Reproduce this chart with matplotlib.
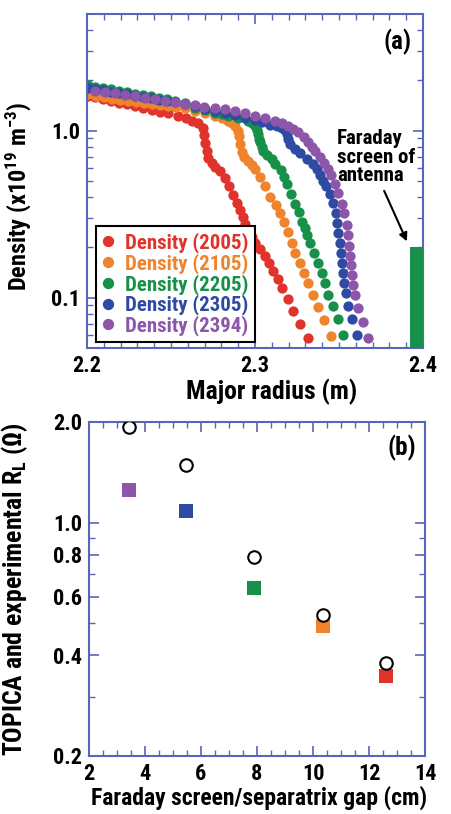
import numpy as np
import matplotlib
matplotlib.use('Agg')
import matplotlib.pyplot as plt
from matplotlib.ticker import FixedLocator, MultipleLocator, NullFormatter

plt.rcParams['font.family'] = ['Roboto Condensed', 'Liberation Sans', 'DejaVu Sans']
plt.rcParams['font.weight'] = 'bold'
plt.rcParams['axes.labelweight'] = 'bold'
plt.rcParams['mathtext.fontset'] = 'custom'
plt.rcParams['mathtext.rm'] = 'Roboto Condensed:bold'
plt.rcParams['mathtext.it'] = 'Roboto Condensed:bold'
plt.rcParams['mathtext.bf'] = 'Roboto Condensed:bold'

# ---- panel (a): density profiles, major radius (m) vs density (1e19 m^-3)
r_2005 = [2.2006, 2.2048, 2.2095, 2.2143, 2.2190, 2.2238, 2.2286, 2.2333, 2.2385, 2.2435, 2.2482,
          2.2543, 2.2589, 2.2623, 2.2661, 2.2688, 2.2699, 2.2705, 2.2714, 2.2723, 2.2744, 2.2762,
          2.2792, 2.2821, 2.2845, 2.2871, 2.2893, 2.2911, 2.2929, 2.2940, 2.2960, 2.2980, 2.3000,
          2.3030, 2.3060, 2.3085, 2.3109, 2.3135, 2.3159, 2.3195, 2.3228, 2.3268, 2.3317]
n_2005 = [1.616, 1.583, 1.544, 1.509, 1.474, 1.438, 1.403, 1.370, 1.328, 1.297, 1.271,
          1.228, 1.187, 1.147, 1.108, 1.042, 0.940, 0.848, 0.760, 0.686, 0.641, 0.610,
          0.570, 0.518, 0.464, 0.410, 0.368, 0.334, 0.303, 0.278, 0.254, 0.232, 0.213,
          0.195, 0.178, 0.162, 0.1454, 0.129, 0.114, 0.0982, 0.0829, 0.070, 0.0575]

r_2105 = [2.2006, 2.2054, 2.2101, 2.2149, 2.2196, 2.2244, 2.2292, 2.2339, 2.2385, 2.2435, 2.2482,
          2.2530, 2.2583, 2.2643, 2.2702, 2.2762, 2.2804, 2.2841, 2.2863, 2.2881, 2.2896, 2.2902,
          2.2911, 2.2921, 2.2935, 2.2960, 2.2982, 2.3000, 2.3030, 2.3060, 2.3089, 2.3125, 2.3149,
          2.3173, 2.3196, 2.3218, 2.3238, 2.3268, 2.3293, 2.3317, 2.3347, 2.3373, 2.3413, 2.3452]
n_2105 = [1.650, 1.616, 1.583, 1.550, 1.519, 1.498, 1.478, 1.468, 1.452, 1.432, 1.413,
          1.393, 1.370, 1.315, 1.271, 1.228, 1.187, 1.147, 1.108, 1.071, 1.000, 0.934,
          0.833, 0.743, 0.700, 0.663, 0.623, 0.592, 0.527, 0.464, 0.401, 0.358, 0.321,
          0.283, 0.247, 0.2117, 0.1845, 0.1609, 0.1403, 0.1223, 0.1042, 0.0876, 0.0740, 0.0588]

r_2205 = [2.2003, 2.2048, 2.2095, 2.2143, 2.2190, 2.2238, 2.2286, 2.2333, 2.2381, 2.2429, 2.2476,
          2.2524, 2.2583, 2.2643, 2.2702, 2.2762, 2.2804, 2.2841, 2.2899, 2.2960, 2.2982, 2.3000,
          2.3012, 2.3020, 2.3026, 2.3030, 2.3039, 2.3049, 2.3071, 2.3099, 2.3119, 2.3155, 2.3173,
          2.3189, 2.3214, 2.3238, 2.3259, 2.3278, 2.3295, 2.3308, 2.3327, 2.3351, 2.3377, 2.3397,
          2.3417, 2.3436, 2.3466, 2.3496, 2.3526]
n_2205 = [1.878, 1.840, 1.803, 1.766, 1.730, 1.695, 1.665, 1.638, 1.605, 1.572, 1.540,
          1.509, 1.458, 1.376, 1.324, 1.280, 1.254, 1.228, 1.187, 1.147, 1.108, 1.071,
          1.014, 0.956, 0.896, 0.852, 0.803, 0.760, 0.720, 0.679, 0.636, 0.578, 0.525,
          0.477, 0.416, 0.366, 0.325, 0.283, 0.261, 0.237, 0.2117, 0.1845, 0.1609, 0.1403,
          0.1223, 0.1042, 0.0887, 0.0747, 0.0602]

r_2305 = [2.2003, 2.2048, 2.2095, 2.2143, 2.2190, 2.2238, 2.2286, 2.2333, 2.2381, 2.2429, 2.2476,
          2.2524, 2.2583, 2.2643, 2.2702, 2.2762, 2.2821, 2.2881, 2.2940, 2.3000, 2.3042, 2.3089,
          2.3131, 2.3161, 2.3179, 2.3190, 2.3199, 2.3208, 2.3238, 2.3268, 2.3308, 2.3345, 2.3369,
          2.3387, 2.3405, 2.3423, 2.3446, 2.3467, 2.3482, 2.3491, 2.3497, 2.3503, 2.3509, 2.3515,
          2.3521, 2.3527, 2.3540, 2.3555, 2.3580, 2.3605]
n_2305 = [1.803, 1.778, 1.742, 1.707, 1.677, 1.650, 1.620, 1.594, 1.561, 1.529, 1.509,
          1.478, 1.448, 1.399, 1.352, 1.315, 1.280, 1.237, 1.195, 1.155, 1.121, 1.086,
          1.064, 1.042, 1.007, 0.960, 0.896, 0.833, 0.778, 0.740, 0.681, 0.636, 0.586,
          0.540, 0.500, 0.464, 0.416, 0.368, 0.321, 0.280, 0.244, 0.2117, 0.1845, 0.1609,
          0.1403, 0.1223, 0.1067, 0.0896, 0.0745, 0.0598]

r_2394 = [2.2048, 2.2107, 2.2167, 2.2226, 2.2286, 2.2345, 2.2405, 2.2464, 2.2524, 2.2583, 2.2643,
          2.2696, 2.2762, 2.2821, 2.2881, 2.2940, 2.3000, 2.3060, 2.3119, 2.3161, 2.3198, 2.3229,
          2.3258, 2.3289, 2.3317, 2.3339, 2.3357, 2.3387, 2.3411, 2.3432, 2.3452, 2.3476, 2.3497,
          2.3516, 2.3530, 2.3545, 2.3551, 2.3558, 2.3564, 2.3570, 2.3577, 2.3585, 2.3598, 2.3616,
          2.3640, 2.3673]
n_2394 = [1.730, 1.707, 1.677, 1.638, 1.616, 1.579, 1.544, 1.509, 1.488, 1.454, 1.422,
          1.395, 1.376, 1.346, 1.315, 1.271, 1.228, 1.187, 1.147, 1.111, 1.071, 1.028,
          0.977, 0.915, 0.852, 0.803, 0.760, 0.695, 0.645, 0.594, 0.543, 0.482, 0.422,
          0.366, 0.321, 0.272, 0.237, 0.2054, 0.179, 0.156, 0.136, 0.1187, 0.1035, 0.0864,
          0.0720, 0.0570]

shots = ['2005', '2105', '2205', '2305', '2394']
colors = ['#e0332b', '#f0842c', '#17904a', '#2f4aa3', '#8d56aa']
radii = [r_2005, r_2105, r_2205, r_2305, r_2394]
densities = [n_2005, n_2105, n_2205, n_2305, n_2394]

# Faraday screen of the antenna
screen_r = [2.392, 2.400]
screen_top = 0.2

# ---- panel (b): loading resistance vs gap (cm)
gap = [3.42, 5.46, 7.89, 10.35, 12.6]
rl_topica = [1.93, 1.49, 0.79, 0.53, 0.379]
rl_exp = [1.25, 1.08, 0.638, 0.49, 0.348]
exp_colors = ['#8d56aa', '#2f4aa3', '#17904a', '#f0842c', '#e0332b']

spine_col = '#5566bb'

fig = plt.figure(figsize=(4.51, 8.14), dpi=100)
ax1 = fig.add_axes([87/451, 1-348/814, 336/451, 334/814])
ax2 = fig.add_axes([89/451, 1-756/814, 336/451, 334/814])

for r, n, c, s in zip(radii, densities, colors, shots):
    ax1.plot(r, n, 'o', color=c, ms=7.4, mew=0, label=f'Density ({s})')

ymin_a = 0.05
ax1.bar(screen_r[0], screen_top - ymin_a, width=screen_r[1]-screen_r[0], bottom=ymin_a,
        align='edge', color='#17904a', zorder=3)
ax1.text(2.3488, 1.02, 'Faraday\nscreen of\nantenna', fontsize=15, ha='left', va='top',
         linespacing=0.95)
ax1.annotate('', xy=(2.3911, 0.21), xytext=(2.3762, 0.452),
             arrowprops=dict(arrowstyle='-|>', color='black', lw=1.5, mutation_scale=12))
ax1.text(0.923, 0.916, '(a)', transform=ax1.transAxes, ha='center', va='center', fontsize=18)

ax1.set_yscale('log')
ax1.set_xlim(2.2, 2.4)
ax1.set_ylim(ymin_a, 5)
ax1.xaxis.set_major_locator(FixedLocator([2.2, 2.3, 2.4]))
ax1.xaxis.set_minor_locator(MultipleLocator(0.01))
ax1.set_xticklabels(['2.2', '2.3', '2.4'])
ax1.yaxis.set_major_locator(FixedLocator([0.1, 1.0]))
ax1.set_yticklabels(['0.1', '1.0'])
ax1.yaxis.set_minor_locator(FixedLocator([0.06, 0.07, 0.08, 0.09, 0.2, 0.3, 0.4, 0.5, 0.6,
                                          0.7, 0.8, 0.9, 2, 3, 4]))
ax1.yaxis.set_minor_formatter(NullFormatter())
ax1.set_xlabel('Major radius (m)', fontsize=18.5)
ax1.xaxis.set_label_coords(0.55, -0.092)
ax1.set_ylabel('Density (x10$^{19}$ m$^{-3}$)', fontsize=17.5)
ax1.yaxis.set_label_coords(-0.16, 0.455)

leg = ax1.legend(loc='lower left', bbox_to_anchor=(0.026, 0.017), borderaxespad=0,
                 fontsize=15, labelcolor='linecolor', fancybox=False, edgecolor='black',
                 framealpha=1, handlelength=0.6, handletextpad=0.5, labelspacing=0.0,
                 borderpad=0.3, markerscale=1.1)
leg.get_frame().set_linewidth(1.5)

# panel (b)
for g, v, c in zip(gap, rl_exp, exp_colors):
    ax2.plot(g, v, 's', color=c, ms=10.5, mew=0, zorder=3)
ax2.plot(gap, rl_topica, 'o', mfc='white', mec='black', mew=1.5, ms=9, ls='none', zorder=4)
ax2.text(0.932, 0.922, '(b)', transform=ax2.transAxes, ha='center', va='center', fontsize=18)

ax2.set_yscale('log')
ax2.set_xlim(2, 14)
ax2.set_ylim(0.2, 2.0)
ax2.xaxis.set_major_locator(MultipleLocator(2))
ax2.xaxis.set_minor_locator(MultipleLocator(0.5))
ax2.yaxis.set_major_locator(FixedLocator([0.2, 0.4, 0.6, 0.8, 1.0, 2.0]))
ax2.set_yticklabels(['0.2', '0.4', '0.6', '0.8', '1.0', '2.0'])
ax2.yaxis.set_minor_locator(FixedLocator([0.3, 0.5, 0.7, 0.9]))
ax2.yaxis.set_minor_formatter(NullFormatter())
ax2.set_xlabel('Faraday screen/separatrix gap (cm)', fontsize=17)
ax2.xaxis.set_label_coords(0.505, -0.09)
ax2.set_ylabel(r'TOPICA and experimental R$_{\rm L}$ ($\Omega$)', fontsize=18.5)
ax2.yaxis.set_label_coords(-0.175, 0.5)

for ax in (ax1, ax2):
    for sp in ax.spines.values():
        sp.set_color(spine_col)
        sp.set_linewidth(1.5)
    ax.tick_params(which='both', direction='in', top=True, right=True, color=spine_col,
                   labelsize=16, pad=5)
    ax.tick_params(which='major', length=7, width=1.2)
    ax.tick_params(which='minor', length=4, width=1)

fig.savefig('out.png', dpi=100)
